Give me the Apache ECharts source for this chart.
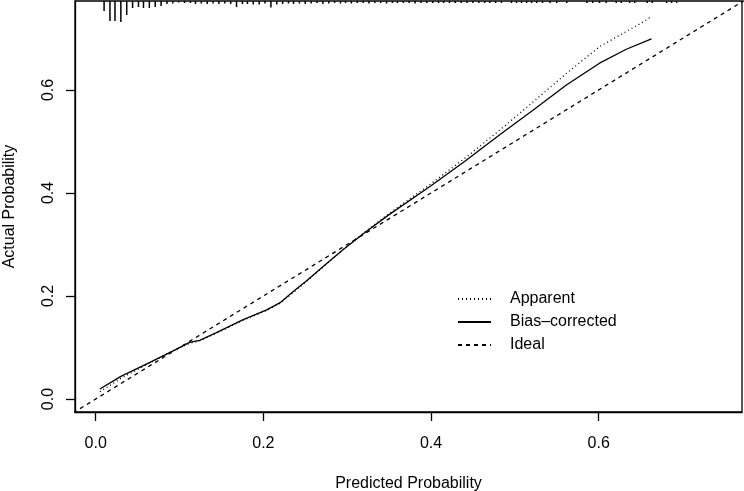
<!DOCTYPE html>
<html>
<head>
<meta charset="utf-8">
<script src="https://cdn.jsdelivr.net/npm/echarts@6/dist/echarts.min.js"></script>
<style>
  html, body { margin: 0; padding: 0; background: #fff; }
  #chart { width: 744px; height: 491px; }
</style>
</head>
<body>
<div id="chart"></div>
<script>
// calibration curves, [predicted, actual]
const apparent = [
  [0.005, 0.014], [0.03, 0.040], [0.06, 0.066], [0.09, 0.092], [0.112, 0.108],
  [0.124, 0.113], [0.144, 0.128], [0.176, 0.153], [0.204, 0.172], [0.220, 0.186],
  [0.236, 0.207], [0.252, 0.229], [0.271, 0.256], [0.295, 0.290], [0.32, 0.323],
  [0.35, 0.360], [0.40, 0.418], [0.44, 0.467], [0.482, 0.522], [0.522, 0.577],
  [0.5615, 0.632], [0.601, 0.684], [0.6547, 0.7335], [0.662, 0.742]
];
const biasCorrected = [
  [0.005, 0.0194], [0.03, 0.044], [0.0647, 0.071], [0.0965, 0.097], [0.112, 0.110],
  [0.124, 0.114], [0.144, 0.129], [0.176, 0.154], [0.204, 0.173], [0.220, 0.187],
  [0.236, 0.209], [0.252, 0.230], [0.271, 0.257], [0.295, 0.290], [0.32, 0.322],
  [0.35, 0.358], [0.40, 0.414], [0.44, 0.461], [0.482, 0.513], [0.522, 0.561],
  [0.5615, 0.6097], [0.601, 0.652], [0.633, 0.679], [0.663, 0.699]
];
const ideal = [[-0.1, -0.1], [1, 1]];

// distribution of predicted probabilities (rug along the top)
const rugX = [
  0.010, 0.017, 0.023, 0.030, 0.037, 0.044, 0.051, 0.057, 0.064, 0.071,
  0.078, 0.085, 0.092, 0.099, 0.106, 0.113, 0.119, 0.126, 0.133, 0.140,
  0.147, 0.154, 0.161, 0.168, 0.175, 0.181, 0.188, 0.195, 0.202, 0.209,
  0.216, 0.223, 0.230, 0.236, 0.243, 0.250, 0.257, 0.264, 0.271, 0.278,
  0.285, 0.292, 0.298, 0.305, 0.312, 0.319, 0.326, 0.333, 0.340, 0.347,
  0.354, 0.360, 0.367, 0.374, 0.381, 0.388, 0.395, 0.402, 0.409, 0.415,
  0.422, 0.429, 0.436, 0.443, 0.450, 0.457, 0.464, 0.470, 0.477, 0.484,
  0.496, 0.502, 0.508, 0.514, 0.520, 0.526, 0.533, 0.542, 0.550, 0.562,
  0.586, 0.593, 0.601, 0.609, 0.621, 0.627, 0.637, 0.643, 0.658, 0.664,
  0.681, 0.687, 0.693
];
const rugFreq = [
  10, 20, 20, 21, 14, 7, 6, 7, 7, 6,
  5, 3, 2.5, 1.5, 2, 2, 3, 2.5, 3, 2.5,
  3, 2.5, 3, 6, 3, 3, 3.5, 3.5, 2.5, 6.5,
  3.5, 3, 2.5, 3, 2.5, 3, 2.5, 2, 3, 2.5,
  2, 2.5, 2, 2.5, 2, 2, 2.5, 2, 2, 2.5,
  2, 2, 2, 2, 2.5, 2, 2, 2, 2, 2,
  2, 2, 2, 2, 2, 2, 2, 2, 2, 2,
  2, 2, 2, 2, 2, 2, 2, 2, 2, 2,
  2, 2, 2, 2, 2, 2, 2, 2, 2, 2,
  2, 2, 2
];

const xTicks = [0, 0.2, 0.4, 0.6];
const yTicks = [0, 0.2, 0.4, 0.6];

const FONT = '"Liberation Sans", Arial, Helvetica, sans-serif';
const chart = echarts.init(document.getElementById('chart'));

// helper axes whose zero sits on the box edge, so the main axes sit there too
const edgeAxis = { type: 'value', min: 0, max: 1, show: false };

chart.setOption({
  animation: false,
  backgroundColor: '#fff',
  textStyle: { fontFamily: FONT, color: '#000' },
  grid: {
    left: 75, right: 2, top: 1, bottom: 79,
    containLabel: false,
    outerBoundsMode: 'none',
    show: true, borderColor: '#000', borderWidth: 1.3, backgroundColor: 'transparent'
  },
  legend: {
    orient: 'vertical',
    left: 457,
    top: 291,
    padding: 0,
    itemWidth: 33,
    itemHeight: 14,
    itemGap: 7,
    data: ['Apparent', 'Bias-corrected', 'Ideal'],
    itemStyle: { color: 'transparent', borderWidth: 0, opacity: 0 },
    textStyle: { fontFamily: FONT, fontSize: 16, color: '#000', padding: [0, 0, 0, 14] },
    formatter: n => n.replace('-', '\u2013')
  },
  xAxis: [{
    type: 'value',
    min: -0.0247,
    max: 0.771,
    name: 'Predicted Probability',
    nameLocation: 'middle',
    nameGap: 64,
    nameTextStyle: { fontFamily: FONT, fontSize: 16, color: '#000' },
    axisLine: { show: true, onZero: true, onZeroAxisIndex: 2, lineStyle: { color: '#000', width: 1.3 } },
    splitLine: { show: false },
    axisTick: { show: true, length: 9, customValues: xTicks, lineStyle: { color: '#000', width: 1.3 } },
    axisLabel: {
      customValues: xTicks, margin: 24, fontSize: 16, color: '#000', fontFamily: FONT,
      formatter: v => v.toFixed(1)
    }
  }, Object.assign({}, edgeAxis)],
  yAxis: [{
    type: 'value',
    min: -0.0252,
    max: 0.7727,
    name: 'Actual Probability',
    nameLocation: 'middle',
    nameGap: 57,
    nameRotate: 90,
    nameTextStyle: { fontFamily: FONT, fontSize: 16, color: '#000' },
    axisLine: { show: true, onZero: true, onZeroAxisIndex: 1, lineStyle: { color: '#000', width: 1.3 } },
    splitLine: { show: false },
    axisTick: { show: true, length: 9, customValues: yTicks, lineStyle: { color: '#000', width: 1.3 } },
    axisLabel: {
      customValues: yTicks, margin: 18, rotate: 90, fontSize: 16, color: '#000', fontFamily: FONT,
      formatter: v => v.toFixed(1)
    }
  }, {
    type: 'value',
    inverse: true,
    min: 0,
    max: 411,
    axisLine: { show: false, onZero: false },
    axisTick: { show: false },
    axisLabel: { show: false },
    splitLine: { show: false }
  }, Object.assign({}, edgeAxis)],
  series: [
    {
      name: 'Apparent',
      type: 'line',
      data: apparent,
      symbol: 'none',
      color: '#000',
      lineStyle: { color: '#000', width: 1.3, type: [1, 3] }
    },
    {
      name: 'Bias-corrected',
      type: 'line',
      data: biasCorrected,
      symbol: 'none',
      color: '#000',
      lineStyle: { color: '#000', width: 1.3, type: 'solid' }
    },
    {
      name: 'Ideal',
      type: 'line',
      data: ideal,
      symbol: 'none',
      color: '#000',
      lineStyle: { color: '#000', width: 1.3, type: [4, 4] }
    },
    {
      name: 'rug',
      type: 'bar',
      yAxisIndex: 1,
      barWidth: 1.5,
      data: rugX.map((x, i) => [x, rugFreq[i]]),
      itemStyle: { color: '#000' },
      silent: true
    }
  ]
});
</script>
</body>
</html>
